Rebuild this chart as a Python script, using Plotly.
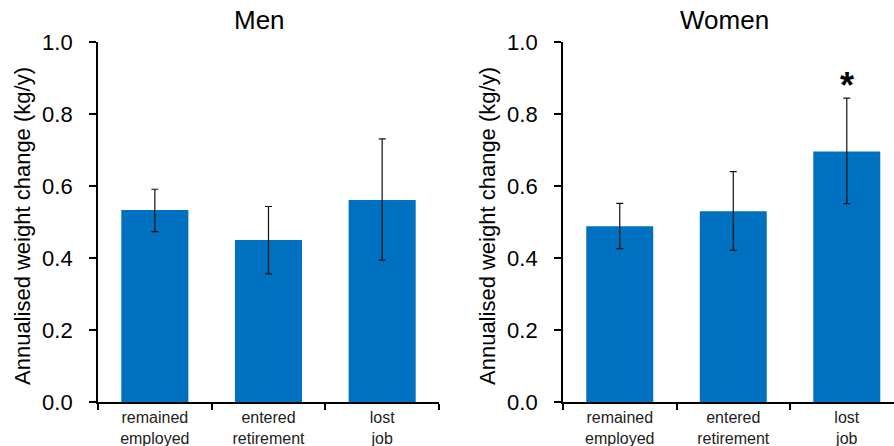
import plotly.graph_objects as go

categories = ["remained<br>employed", "entered<br>retirement", "lost<br>job"]
men_mean = [0.533, 0.450, 0.561]
men_err_plus = [0.058, 0.093, 0.170]
men_err_minus = [0.060, 0.094, 0.167]
women_mean = [0.488, 0.530, 0.696]
women_err_plus = [0.064, 0.110, 0.148]
women_err_minus = [0.062, 0.109, 0.145]
y_ticks = [0.0, 0.2, 0.4, 0.6, 0.8, 1.0]
y_ticktext = ["0.0", "0.2", "0.4", "0.6", "0.8", "1.0"]
panel_titles = ["Men", "Women"]
y_title = "Annualised weight change (kg/y)"
significance_mark = "*"
sig_index = 2

W, H = 894, 446
BLUE = "#0070C0"
FONT = "Liberation Sans, Arial, sans-serif"

fig = go.Figure()
for i, (mean, ep, em) in enumerate([(men_mean, men_err_plus, men_err_minus),
                                     (women_mean, women_err_plus, women_err_minus)]):
    sfx = "" if i == 0 else "2"
    fig.add_trace(go.Bar(
        x=categories, y=mean, width=0.59,
        marker=dict(color=BLUE, line=dict(width=0)),
        error_y=dict(type="data", symmetric=False, array=ep, arrayminus=em,
                     color="#111111", thickness=1.2, width=3.5),
        xaxis="x" + sfx, yaxis="y" + sfx, showlegend=False,
    ))

ydom = [(H - 402) / H, (H - 42) / H]
axis_common = dict(showgrid=False, zeroline=False, showline=True, linecolor="black",
                   linewidth=1.8, color="black", automargin=False)
xcommon = dict(axis_common, type="category", ticks="outside", tickson="boundaries",
               ticklen=6, tickwidth=1.8, tickcolor="black",
               tickfont=dict(family=FONT, size=16, color="#222222"))
ycommon = dict(axis_common, range=[0, 1], tickmode="array", tickvals=y_ticks,
               ticktext=y_ticktext, ticks="outside", ticklen=7, tickwidth=1.8,
               ticklabelstandoff=12,
               tickcolor="black", tickfont=dict(family=FONT, size=22, color="black"))

fig.update_layout(
    template="none",
    width=W, height=H, margin=dict(l=0, r=0, t=0, b=0, autoexpand=False),
    paper_bgcolor="white", plot_bgcolor="white", bargap=0.41,
    xaxis=dict(xcommon, domain=[98 / W, 439 / W], range=[-0.5, 2.5], anchor="y"),
    xaxis2=dict(xcommon, domain=[563 / W, 1.0], range=[-0.5, 2.416], anchor="y2"),
    yaxis=dict(ycommon, domain=ydom, anchor="x"),
    yaxis2=dict(ycommon, domain=ydom, anchor="x2"),
)

annotations = []
for cx, t in zip([259, 724], panel_titles):
    annotations.append(dict(text=t, x=cx / W, y=1 - 20 / H, xref="paper", yref="paper",
                            xanchor="center", yanchor="middle", showarrow=False,
                            font=dict(family=FONT, size=26, color="black")))
for cx in [22, 487]:
    annotations.append(dict(text=y_title, x=cx / W, y=1 - 226 / H, xref="paper", yref="paper",
                            xanchor="center", yanchor="middle", textangle=-90, showarrow=False,
                            font=dict(family=FONT, size=22, color="black")))
annotations.append(dict(text="<b>" + significance_mark + "</b>", x=categories[sig_index],
                        y=women_mean[sig_index] + women_err_plus[sig_index] + 0.036,
                        xref="x2", yref="y2", xanchor="center", yanchor="middle",
                        showarrow=False, font=dict(family=FONT, size=36, color="black")))
fig.update_layout(annotations=annotations)

fig.write_html("out.html", config={"displayModeBar": False},
               post_script="document.body.style.margin='0';document.body.style.overflow='hidden';")
